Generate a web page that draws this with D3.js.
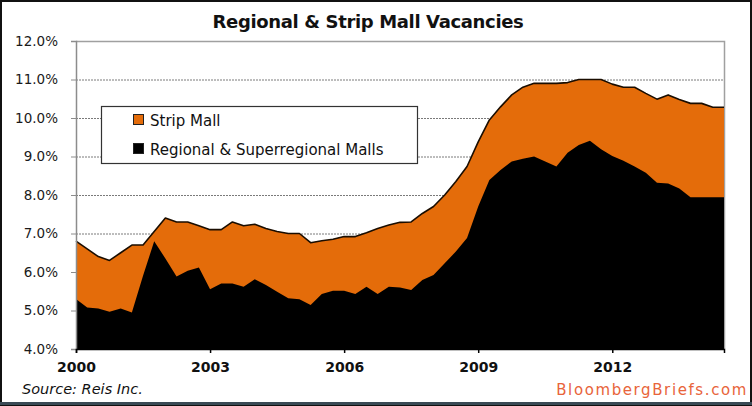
<!DOCTYPE html>
<html>
<head>
<meta charset="utf-8">
<script src="https://cdn.jsdelivr.net/npm/d3@7"></script>
<style>
  body { margin: 0; background: #fff; }
  svg { display: block; }
</style>
</head>
<body>
<div class="chart"></div>
<script>
// quarterly categories, 2000Q1 - 2014Q3
var quarters = [
  "2000Q1","2000Q2","2000Q3","2000Q4","2001Q1","2001Q2","2001Q3","2001Q4",
  "2002Q1","2002Q2","2002Q3","2002Q4","2003Q1","2003Q2","2003Q3","2003Q4",
  "2004Q1","2004Q2","2004Q3","2004Q4","2005Q1","2005Q2","2005Q3","2005Q4",
  "2006Q1","2006Q2","2006Q3","2006Q4","2007Q1","2007Q2","2007Q3","2007Q4",
  "2008Q1","2008Q2","2008Q3","2008Q4","2009Q1","2009Q2","2009Q3","2009Q4",
  "2010Q1","2010Q2","2010Q3","2010Q4","2011Q1","2011Q2","2011Q3","2011Q4",
  "2012Q1","2012Q2","2012Q3","2012Q4","2013Q1","2013Q2","2013Q3","2013Q4",
  "2014Q1","2014Q2","2014Q3"
];

var stripMall = [
  6.8, 6.6, 6.4, 6.3, 6.5, 6.7, 6.7, 7.05,
  7.4, 7.3, 7.3, 7.2, 7.1, 7.1, 7.3, 7.2,
  7.24, 7.13, 7.05, 7.0, 7.0, 6.76, 6.81, 6.85,
  6.92, 6.92, 7.02, 7.13, 7.22, 7.29, 7.3, 7.52,
  7.7, 8.0, 8.35, 8.74, 9.38, 9.95, 10.29, 10.6,
  10.8, 10.9, 10.9, 10.9, 10.92, 11.0, 11.0, 11.0,
  10.88, 10.8, 10.8, 10.64, 10.49, 10.6, 10.48, 10.38,
  10.38, 10.28, 10.28
];

var regionalMalls = [
  5.3, 5.08, 5.05, 4.97, 5.05, 4.95, 5.9, 6.8,
  6.35, 5.88, 6.03, 6.12, 5.55, 5.7, 5.7, 5.62,
  5.81, 5.66, 5.49, 5.32, 5.29, 5.14, 5.43, 5.51,
  5.51, 5.43, 5.62, 5.43, 5.62, 5.6, 5.53, 5.79,
  5.92, 6.23, 6.53, 6.88, 7.7, 8.39, 8.65, 8.87,
  8.94, 9.0, 8.87, 8.74, 9.1, 9.3, 9.41, 9.19,
  9.01, 8.89, 8.74, 8.58, 8.32, 8.3, 8.17, 7.94,
  7.94, 7.94, 7.94
];

var xTicks = ["2000Q1", "2003Q1", "2006Q1", "2009Q1", "2012Q1"];
var xTickLabels = ["2000", "2003", "2006", "2009", "2012"];
var yTicks = [4, 5, 6, 7, 8, 9, 10, 11, 12];

var seriesNames = ["Strip Mall", "Regional & Superregional Malls"];

var svgWidth = 752;
var svgHeight = 406;

var plot = { left: 76, right: 724, top: 41, bottom: 349 };

var orange = "#e46c0a";

var svg = d3.select(".chart")
  .append("svg")
  .attr("width", svgWidth)
  .attr("height", svgHeight);

svg.append("rect")
  .attr("x", 0).attr("y", 0)
  .attr("width", svgWidth).attr("height", svgHeight)
  .attr("fill", "#fff");

var xScale = d3.scalePoint()
  .domain(quarters)
  .range([plot.left, plot.right]);

var yScale = d3.scaleLinear()
  .domain([4, 12])
  .range([plot.bottom, plot.top]);

// dotted gridlines
svg.append("g")
  .selectAll("line")
  .data(yTicks.filter(d => d > 4 && d < 12))
  .enter()
  .append("line")
  .attr("x1", plot.left)
  .attr("x2", plot.right)
  .attr("y1", d => yScale(d) + 0.5)
  .attr("y2", d => yScale(d) + 0.5)
  .attr("stroke", "#7a7a7a")
  .attr("stroke-width", 1)
  .attr("stroke-dasharray", "2,1");

// plot border, top and right
svg.append("path")
  .attr("d", `M${plot.left},${plot.top + 0.5}H${plot.right + 0.5}V${plot.bottom}`)
  .attr("fill", "none")
  .attr("stroke", "#a0a0a0")
  .attr("stroke-width", 1.5);

var seriesArea = d3.area()
  .x((d, i) => xScale(quarters[i]))
  .y0(yScale(4))
  .y1(d => yScale(d));

var stripLine = d3.line()
  .x((d, i) => xScale(quarters[i]))
  .y(d => yScale(d));

svg.append("path")
  .datum(stripMall)
  .attr("d", seriesArea)
  .attr("fill", orange);

svg.append("path")
  .datum(stripMall)
  .attr("d", stripLine)
  .attr("fill", "none")
  .attr("stroke", "#1a0d00")
  .attr("stroke-width", 1.6)
  .attr("stroke-linejoin", "round");

svg.append("path")
  .datum(regionalMalls)
  .attr("d", seriesArea)
  .attr("fill", "#000");

// y axis
var leftAxis = d3.axisLeft(yScale)
  .tickValues(yTicks)
  .tickSize(5)
  .tickPadding(13)
  .tickFormat(d => d.toFixed(1) + "%");

var yAxis = svg.append("g")
  .attr("transform", `translate(${plot.left}, 0)`)
  .call(leftAxis);

yAxis.select(".domain")
  .attr("stroke", "#8c8c8c")
  .attr("stroke-width", 1.5);
yAxis.selectAll(".tick line")
  .attr("stroke", "#8c8c8c");
yAxis.selectAll(".tick text")
  .attr("font-family", "DejaVu Sans, sans-serif")
  .attr("font-size", "13.5px")
  .attr("fill", "#1a1a1a");

// x axis
var bottomAxis = d3.axisBottom(xScale)
  .tickValues(xTicks)
  .tickSize(4)
  .tickPadding(9)
  .tickFormat((d, i) => xTickLabels[i]);

var xAxis = svg.append("g")
  .attr("transform", `translate(0, ${plot.bottom})`)
  .call(bottomAxis);

xAxis.select(".domain")
  .attr("stroke", "#000")
  .attr("stroke-width", 1.5);
xAxis.selectAll(".tick line")
  .attr("stroke", "#000")
  .attr("stroke-width", 1.5);
xAxis.selectAll(".tick text")
  .attr("font-family", "DejaVu Sans, sans-serif")
  .attr("font-weight", "bold")
  .attr("font-size", "14px")
  .attr("fill", "#111");

// title
svg.append("text")
  .attr("x", 368)
  .attr("y", 28)
  .attr("text-anchor", "middle")
  .attr("font-family", "DejaVu Sans, sans-serif")
  .attr("font-weight", "bold")
  .attr("font-size", "18px")
  .attr("letter-spacing", "-0.35px")
  .attr("fill", "#111")
  .text("Regional & Strip Mall Vacancies");

// legend
var legend = svg.append("g");

legend.append("rect")
  .attr("x", 101.5)
  .attr("y", 106.5)
  .attr("width", 316)
  .attr("height", 57)
  .attr("fill", "#fff")
  .attr("stroke", "#333")
  .attr("stroke-width", 1.2);

var legendItems = legend.selectAll(".item")
  .data(seriesNames)
  .enter()
  .append("g")
  .classed("item", true)
  .attr("transform", (d, i) => `translate(133, ${114 + i * 29})`);

legendItems.append("rect")
  .attr("x", 0.5)
  .attr("y", 0.5)
  .attr("width", 10)
  .attr("height", 10)
  .attr("fill", (d, i) => i === 0 ? orange : "#000")
  .attr("stroke", "#222")
  .attr("stroke-width", 1);

legendItems.append("text")
  .attr("x", 17)
  .attr("y", 11.5)
  .attr("font-family", "DejaVu Sans, sans-serif")
  .attr("font-size", "15px")
  .attr("fill", "#111")
  .text(d => d);

// source and brand
svg.append("text")
  .attr("x", 22)
  .attr("y", 394)
  .attr("font-family", "DejaVu Sans, sans-serif")
  .attr("font-style", "italic")
  .attr("font-size", "14.5px")
  .attr("fill", "#111")
  .text("Source: Reis Inc.");

svg.append("text")
  .attr("x", 748)
  .attr("y", 395)
  .attr("text-anchor", "end")
  .attr("font-family", "DejaVu Sans, sans-serif")
  .attr("font-size", "15px")
  .attr("letter-spacing", "1.6px")
  .attr("fill", "#e8643a")
  .text("BloombergBriefs.com");

// outer frame
svg.append("rect")
  .attr("x", 1)
  .attr("y", 1)
  .attr("width", svgWidth - 2)
  .attr("height", svgHeight - 2)
  .attr("fill", "none")
  .attr("stroke", "#111")
  .attr("stroke-width", 2);

svg.append("line")
  .attr("x1", 0).attr("x2", svgWidth)
  .attr("y1", 403.5).attr("y2", 403.5)
  .attr("stroke", "#3a4a55")
  .attr("stroke-width", 3);
</script>
</body>
</html>
